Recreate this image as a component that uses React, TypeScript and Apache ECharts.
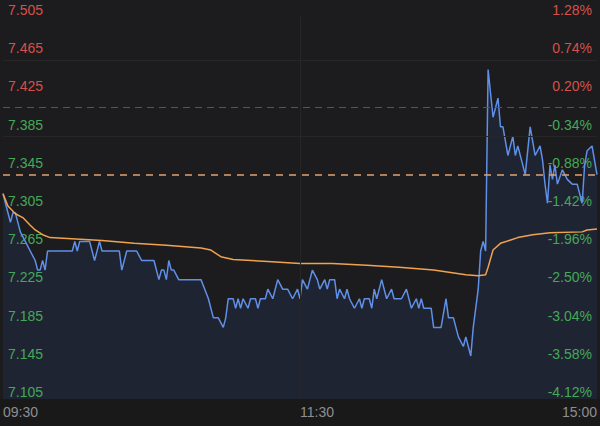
import React, { useEffect, useRef } from "react";
import * as echarts from "echarts";

const timeLabels = ["09:30", "11:30", "15:00"];
const priceLabels = ["7.105", "7.145", "7.185", "7.225", "7.265", "7.305", "7.345", "7.385", "7.425", "7.465", "7.505"];
const pctLabels = ["-4.12%", "-3.58%", "-3.04%", "-2.50%", "-1.96%", "-1.42%", "-0.88%", "-0.34%", "0.20%", "0.74%", "1.28%"];
const prevClose = 7.41;
const lastPrice = 7.34;
const gridPrices = [7.465, 7.385];

const priceMinutes = [0, 1, 2, 3, 4, 5, 6, 7, 9, 11, 13, 14, 15, 16, 17, 18, 28, 29, 30, 31, 35, 37, 39, 40, 47, 48, 50, 54, 56, 61, 63, 64, 65, 66, 67, 68, 69, 71, 80, 83, 85, 87, 89, 90, 91, 93, 94, 95, 96, 97, 99, 100, 102, 103, 104, 106, 107, 109, 111, 113, 115, 117, 119, 120, 121, 123, 125, 127, 128, 130, 131, 132, 134, 135, 136, 138, 139, 140, 142, 144, 145, 146, 148, 149, 150, 151, 153, 155, 157, 158, 161, 163, 165, 167, 168, 169, 170, 173, 174, 177, 179, 180, 182, 184, 186, 187, 189, 190, 192, 193, 194, 195, 196, 198, 200, 201, 202, 204, 206, 207, 208, 211, 213, 215, 217, 218, 219, 220, 221, 222, 223, 224, 226, 228, 230, 232, 234, 235, 236, 238, 240];
const priceValues = [7.32, 7.31, 7.30, 7.29, 7.30, 7.30, 7.29, 7.28, 7.27, 7.26, 7.25, 7.24, 7.24, 7.25, 7.24, 7.26, 7.26, 7.27, 7.26, 7.27, 7.27, 7.25, 7.27, 7.26, 7.26, 7.24, 7.26, 7.26, 7.25, 7.25, 7.23, 7.24, 7.24, 7.23, 7.25, 7.24, 7.24, 7.23, 7.23, 7.21, 7.19, 7.19, 7.18, 7.19, 7.21, 7.21, 7.20, 7.21, 7.20, 7.21, 7.20, 7.21, 7.21, 7.20, 7.21, 7.21, 7.22, 7.21, 7.23, 7.22, 7.22, 7.21, 7.22, 7.21, 7.23, 7.22, 7.24, 7.23, 7.22, 7.23, 7.22, 7.23, 7.23, 7.21, 7.22, 7.21, 7.22, 7.21, 7.20, 7.21, 7.20, 7.21, 7.21, 7.20, 7.22, 7.21, 7.23, 7.21, 7.22, 7.21, 7.21, 7.22, 7.20, 7.21, 7.20, 7.21, 7.20, 7.20, 7.18, 7.18, 7.21, 7.19, 7.19, 7.17, 7.16, 7.17, 7.15, 7.18, 7.22, 7.26, 7.27, 7.26, 7.45, 7.40, 7.42, 7.39, 7.39, 7.36, 7.38, 7.36, 7.37, 7.34, 7.39, 7.36, 7.37, 7.355, 7.33, 7.31, 7.35, 7.335, 7.35, 7.33, 7.345, 7.335, 7.33, 7.33, 7.31, 7.35, 7.365, 7.37, 7.34];

const avgMinutes = [0, 2, 5, 8, 11, 13, 16, 19, 26, 40, 53, 66, 80, 84, 88, 93, 107, 120, 133, 147, 160, 174, 187, 192, 195, 196, 198, 201, 208, 214, 221, 234, 236, 240];
const avgValues = [7.32, 7.307, 7.299, 7.295, 7.287, 7.282, 7.277, 7.274, 7.273, 7.271, 7.268, 7.266, 7.263, 7.261, 7.254, 7.251, 7.249, 7.247, 7.247, 7.245, 7.243, 7.240, 7.235, 7.234, 7.235, 7.243, 7.261, 7.268, 7.274, 7.277, 7.279, 7.280, 7.282, 7.283];

const RED = "#d5514a";
const GREEN = "#45a857";
const FONT = "'Helvetica Neue', Helvetica, Arial, 'Liberation Sans', sans-serif";

export default function App() {
  const ref = useRef<HTMLDivElement>(null);
  useEffect(() => {
    if (!ref.current) return;
    const chart = echarts.init(ref.current, undefined, { renderer: "svg" });
    const priceData = priceMinutes.map((m, i) => [m, priceValues[i]]);
    const avgData = avgMinutes.map((m, i) => [m, avgValues[i]]);
    const idx = (v: number) => Math.round((v - 7.105) / 0.04);
    const yCommon = {
      type: "value",
      min: 7.105,
      max: 7.505,
      interval: 0.04,
      z: 1,
      axisLine: { show: false },
      axisTick: { show: false },
      splitLine: { show: false },
    };
    const faint = { color: "#262628", type: "solid", width: 1 };
    chart.setOption({
      animation: false,
      backgroundColor: "#1c1c1e",
      textStyle: { fontFamily: FONT },
      graphic: [
        {
          type: "rect",
          left: 0,
          bottom: 0,
          z: -10,
          shape: { width: 600, height: 27 },
          style: { fill: "#19191a" },
          silent: true,
        },
      ],
      grid: { left: 2, right: 3, top: 17, bottom: 27 },
      xAxis: {
        type: "value",
        min: 0,
        max: 240,
        interval: 120,
        axisLine: { show: false },
        axisTick: { show: false },
        splitLine: { show: false },
        axisLabel: {
          color: "#8e8e93",
          fontSize: 14,
          fontFamily: FONT,
          margin: 6,
          align: "left",
          alignMinLabel: "left",
          alignMaxLabel: "right",
          formatter: (v: number) => timeLabels[Math.round(v / 120)],
        },
      },
      yAxis: [
        {
          ...yCommon,
          position: "left",
          axisLabel: {
            inside: true,
            margin: 5,
            fontSize: 14,
            fontFamily: FONT,
            verticalAlign: "bottom",
            color: (v: any) => (Number(v) > prevClose ? RED : GREEN),
            formatter: (v: number) => priceLabels[idx(v)],
          },
        },
        {
          ...yCommon,
          position: "right",
          axisLabel: {
            inside: true,
            margin: 5,
            fontSize: 14,
            fontFamily: FONT,
            verticalAlign: "bottom",
            color: (v: any) => (Number(v) > prevClose ? RED : GREEN),
            formatter: (v: number) => pctLabels[idx(v)],
          },
        },
      ],
      series: [
        {
          type: "line",
          name: "area",
          data: priceData,
          yAxisIndex: 0,
          symbol: "none",
          z: -1,
          silent: true,
          lineStyle: { width: 0, opacity: 0 },
          areaStyle: { color: "#1f2433", opacity: 1, origin: "start" },
          markLine: {
            silent: true,
            symbol: "none",
            label: { show: false },
            data: [
              ...gridPrices.map((p) => ({ yAxis: p, lineStyle: faint })),
              { xAxis: 120, lineStyle: faint },
            ],
          },
        },
        {
          type: "line",
          name: "price",
          data: priceData,
          yAxisIndex: 0,
          symbol: "none",
          z: 3,
          lineStyle: { color: "#5f8fe6", width: 1.5 },
          markLine: {
            silent: true,
            symbol: "none",
            label: { show: false },
            data: [
              { yAxis: prevClose, lineStyle: { color: "#55565a", type: [7, 5], width: 1.2 } },
              { yAxis: lastPrice, lineStyle: { color: "#e0a172", type: [7, 6], width: 1.5 } },
            ],
          },
        },
        {
          type: "line",
          name: "avg",
          data: avgData,
          yAxisIndex: 0,
          symbol: "none",
          z: 4,
          lineStyle: { color: "#f0a24e", width: 1.5 },
        },
      ],
    });
    return () => chart.dispose();
  }, []);
  return (
    <div
      ref={ref}
      style={{ position: "absolute", left: 0, top: 0, width: 600, height: 426 }}
    />
  );
}
